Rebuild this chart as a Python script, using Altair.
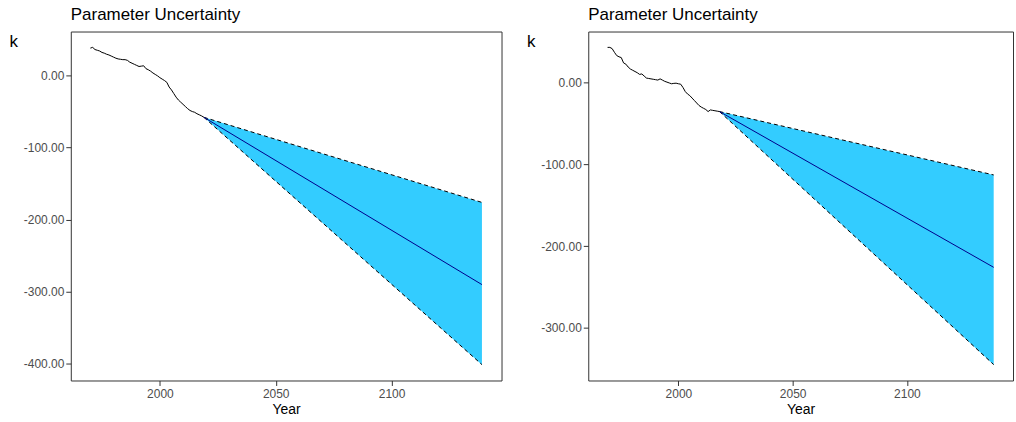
import altair as alt
import pandas as pd

# ---- Left panel data ----
hist_years_a = list(range(1970, 2020))
hist_k_a = [38, 39, 36, 35, 34, 32, 31, 29.5, 28.5, 27,
            25.5, 24, 23, 22.5, 22, 22, 21, 18.5, 17, 15.5,
            14, 12.5, 13, 13.5, 9.5, 8, 6, 3.5, 1.5, -0.5,
            -3, -5, -7, -9.5, -16, -20, -25, -30, -34, -37,
            -40, -43, -46, -48.5, -50, -51, -53, -54.5, -56, -58]
fc_years_a = [2019, 2139]
fc_mid_a = [-58, -290]
fc_hi_a = [-58, -176]
fc_lo_a = [-58, -401]

# ---- Right panel data ----
hist_years_b = list(range(1969, 2019))
hist_k_b = [43, 43, 41.5, 37, 33, 31.5, 30.5, 24, 22.5, 19,
            16.5, 15, 13.5, 12, 10, 10.5, 8, 5.5, 5, 4.5,
            4, 3.5, 3, 4.5, 3, 1.5, 0.5, -0.5, -1.5, -1,
            -0.8, -1.5, -2, -6, -11, -14, -16, -19, -22, -25,
            -28, -30, -31.5, -33, -35.5, -33.5, -34, -34.5, -35, -35.5]
fc_years_b = [2018, 2138]
fc_mid_b = [-35.5, -226]
fc_hi_b = [-35.5, -113]
fc_lo_b = [-35.5, -345]

x_ticks = [2000, 2050, 2100]
y_ticks_a = [0, -100, -200, -300, -400]
y_ticks_b = [0, -100, -200, -300]

FONT = "Liberation Sans"


def expand(lo, hi, f=0.05):
    r = hi - lo
    return [lo - f * r, hi + f * r]


def panel(hy, hk, fy, fmid, fhi, flo, yticks, width):
    hist = pd.DataFrame({"year": hy, "k": hk})
    fc = pd.DataFrame({"year": fy, "mid": fmid, "hi": fhi, "lo": flo})
    xdom = expand(min(hy), max(fy))
    ydom = expand(min(flo), max(hk))
    xs = alt.Scale(domain=xdom, nice=False, zero=False)
    ys = alt.Scale(domain=ydom, nice=False, zero=False)
    xax = alt.Axis(values=x_ticks, format="d", title="Year", titleFontSize=14,
                   labelPadding=3, titlePadding=3, tickSize=5)
    yax = alt.Axis(values=yticks, title="k",
                   labelExpr="(datum.value < 0 ? '-' : '') + format(abs(datum.value), '.2f')",
                   titleAngle=0, titleX=-62, titleY=15, titleAlign="left",
                   titleBaseline="alphabetic", titleFontSize=17,
                   labelPadding=2, tickSize=5)
    X = lambda f: alt.X(f"{f}:Q", scale=xs, axis=xax)
    Y = lambda f: alt.Y(f"{f}:Q", scale=ys, axis=yax)

    band = alt.Chart(fc).mark_area(color="#33CCFF", opacity=1).encode(
        x=X("year"), y=Y("lo"), y2="hi:Q")
    hi_line = alt.Chart(fc).mark_line(color="black", strokeDash=[4, 3], strokeWidth=1).encode(
        x=X("year"), y=Y("hi"))
    lo_line = alt.Chart(fc).mark_line(color="black", strokeDash=[4, 3], strokeWidth=1).encode(
        x=X("year"), y=Y("lo"))
    mid_line = alt.Chart(fc).mark_line(color="#00008B", strokeWidth=1).encode(
        x=X("year"), y=Y("mid"))
    hist_line = alt.Chart(hist).mark_line(color="black", strokeWidth=1).encode(
        x=X("year"), y=Y("k"))
    return alt.layer(band, hi_line, lo_line, mid_line, hist_line).properties(
        width=width, height=350,
        title=alt.Title("Parameter Uncertainty", anchor="start", frame="group",
                        fontSize=17, font=FONT, fontWeight="normal", color="black",
                        offset=8))


left = panel(hist_years_a, hist_k_a, fc_years_a, fc_mid_a, fc_hi_a, fc_lo_a, y_ticks_a, 432)
right = panel(hist_years_b, hist_k_b, fc_years_b, fc_mid_b, fc_hi_b, fc_lo_b, y_ticks_b, 426)

chart = alt.hconcat(left, right, spacing=23).properties(
    padding={"left": 8, "top": 4, "right": 2, "bottom": 0},
    background="white",
).configure_view(stroke="#333333", strokeWidth=1).configure_axis(
    domain=False, grid=False, tickColor="#333333", labelColor="#4D4D4D",
    labelFont=FONT, labelFontSize=12, titleFont=FONT, titleColor="black",
    titleFontWeight="normal",
)

chart.save("out.html", embed_options={"renderer": "svg", "actions": False})
